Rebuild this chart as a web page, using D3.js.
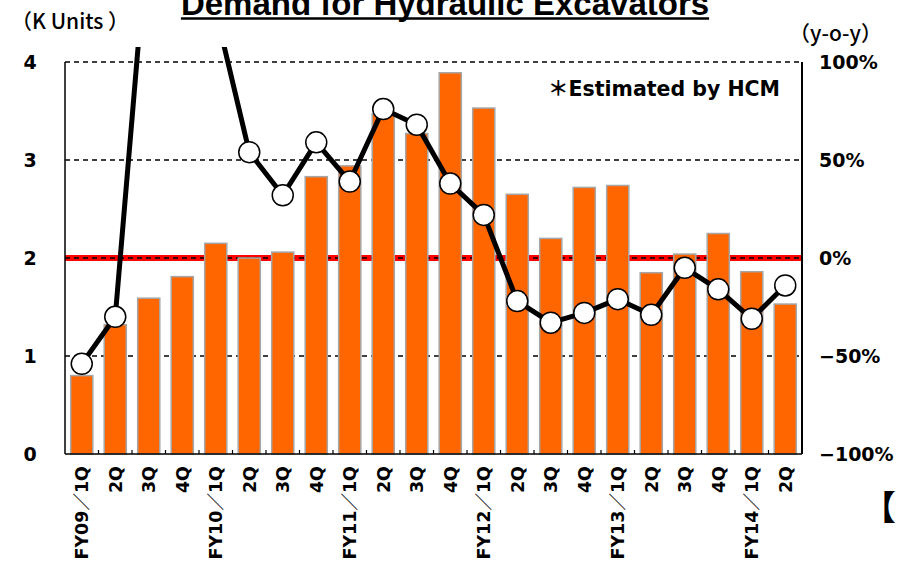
<!DOCTYPE html>
<html>
<head>
<meta charset="utf-8">
<script src="https://cdn.jsdelivr.net/npm/d3@7"></script>
<style>
	body { margin: 0; background: #fff; }
	svg { display: block; }
	text { font-family: "DejaVu Sans", "Noto Sans CJK JP", sans-serif; font-weight: bold; fill: #000; }
</style>
</head>
<body>
<svg id="chart" width="897" height="564"></svg>
<script>
'use strict';

// quarters shown under the bars
var quarters = ["FY09／1Q", "2Q", "3Q", "4Q", "FY10／1Q", "2Q", "3Q", "4Q", "FY11／1Q", "2Q", "3Q", "4Q",
	"FY12／1Q", "2Q", "3Q", "4Q", "FY13／1Q", "2Q", "3Q", "4Q", "FY14／1Q", "2Q"];
// demand, K units (left axis)
var demand = [0.80, 1.32, 1.59, 1.81, 2.15, 2.00, 2.06, 2.83, 2.94, 3.47, 3.27, 3.89,
	3.53, 2.65, 2.20, 2.72, 2.74, 1.85, 2.04, 2.25, 1.86, 1.53];
// year-on-year change, % (right axis)
var yoy = [-54, -30, 172, 160, 126, 54, 32, 59, 39, 76, 68, 38,
	22, -22, -33, -28, -21, -29, -5, -16, -31, -14];
var leftTicks = [0, 1, 2, 3, 4];
var rightTicks = [-100, -50, 0, 50, 100];

var svg = d3.select("#chart");
var plotLeft = 65, plotRight = 802, plotTop = 62, plotBottom = 454;

var x = d3.scaleBand()
	.domain(d3.range(quarters.length))
	.range([plotLeft, plotRight])
	.paddingInner(0.34)
	.paddingOuter(0.17);
var yL = d3.scaleLinear().domain([0, 4]).range([plotBottom, plotTop]);
var yR = d3.scaleLinear().domain([-100, 100]).range([plotBottom, plotTop]);

// title
var title = svg.append("text")
	.attr("x", 445).attr("y", 15)
	.attr("text-anchor", "middle")
	.style("font-family", "'Liberation Sans', Arial, sans-serif")
	.style("font-size", "33px")
	.text("Demand for Hydraulic Excavators");
var tb = title.node().getBBox();
svg.append("line")
	.attr("x1", tb.x).attr("x2", tb.x + tb.width)
	.attr("y1", 18.5).attr("y2", 18.5)
	.attr("stroke", "#000").attr("stroke-width", 2.5);

svg.append("text")
	.attr("x", 11).attr("y", 29)
	.style("font-family", "'Noto Sans CJK JP', sans-serif")
	.style("font-weight", "500")
	.style("font-size", "21px")
	.text("（K Units ）");
svg.append("text")
	.attr("x", 882).attr("y", 41)
	.attr("text-anchor", "end")
	.style("font-family", "'Noto Sans CJK JP', sans-serif")
	.style("font-weight", "500")
	.style("font-size", "21px")
	.text("（y-o-y）");

// red zero line
svg.append("line")
	.attr("x1", plotLeft).attr("x2", plotRight)
	.attr("y1", yR(0)).attr("y2", yR(0))
	.attr("stroke", "#ff0000").attr("stroke-width", 6);

// dashed gridlines
svg.append("g").selectAll("line")
	.data(leftTicks.filter(function(d) { return d > 0; }))
	.enter().append("line")
	.attr("x1", plotLeft).attr("x2", plotRight)
	.attr("y1", function(d) { return yL(d); })
	.attr("y2", function(d) { return yL(d); })
	.attr("stroke", "#000").attr("stroke-width", 1.5)
	.attr("stroke-dasharray", "5,4");

// bars
svg.append("g").selectAll("rect")
	.data(demand)
	.enter().append("rect")
	.attr("x", function(d, i) { return x(i); })
	.attr("y", function(d) { return yL(d); })
	.attr("width", x.bandwidth())
	.attr("height", function(d) { return plotBottom - yL(d); })
	.attr("fill", "#ff6600")
	.attr("stroke", "#a6a6a6").attr("stroke-width", 1.5);

// frame
svg.append("line").attr("x1", plotLeft).attr("x2", plotLeft).attr("y1", plotTop).attr("y2", plotBottom)
	.attr("stroke", "#000").attr("stroke-width", 1.5);
svg.append("line").attr("x1", plotRight).attr("x2", plotRight).attr("y1", plotTop).attr("y2", plotBottom)
	.attr("stroke", "#000").attr("stroke-width", 2);
svg.append("line").attr("x1", plotLeft).attr("x2", plotRight).attr("y1", plotBottom).attr("y2", plotBottom)
	.attr("stroke", "#000").attr("stroke-width", 1.5);

// category ticks, pointing up
svg.append("g").selectAll("line")
	.data(d3.range(1, quarters.length))
	.enter().append("line")
	.attr("x1", function(i) { return x(i) - x.step() * x.paddingInner() / 2; })
	.attr("x2", function(i) { return x(i) - x.step() * x.paddingInner() / 2; })
	.attr("y1", plotBottom).attr("y2", plotBottom - 4)
	.attr("stroke", "#000").attr("stroke-width", 1.2);

// y-o-y line, clipped just above the plot
svg.append("clipPath").attr("id", "clip")
	.append("rect").attr("x", plotLeft).attr("y", 47)
	.attr("width", plotRight - plotLeft).attr("height", plotBottom - 47);

var line = d3.line()
	.x(function(d, i) { return x(i) + x.bandwidth() / 2; })
	.y(function(d) { return yR(d); });

var lg = svg.append("g").attr("clip-path", "url(#clip)");
lg.append("path")
	.datum(yoy)
	.attr("d", line)
	.attr("fill", "none")
	.attr("stroke", "#000").attr("stroke-width", 5)
	.attr("stroke-linejoin", "round");
lg.selectAll("circle")
	.data(yoy)
	.enter().append("circle")
	.attr("cx", function(d, i) { return x(i) + x.bandwidth() / 2; })
	.attr("cy", function(d) { return yR(d); })
	.attr("r", 10.5)
	.attr("fill", "#fff")
	.attr("stroke", "#000").attr("stroke-width", 1.5);

// left axis labels
svg.append("g").selectAll("text")
	.data(leftTicks)
	.enter().append("text")
	.attr("x", 30)
	.attr("y", function(d) { return yL(d); })
	.attr("dy", "0.36em")
	.attr("text-anchor", "middle")
	.style("font-size", "19px")
	.text(function(d) { return d; });

// right axis labels
svg.append("g").selectAll("text")
	.data(rightTicks)
	.enter().append("text")
	.attr("x", 819)
	.attr("y", function(d) { return yR(d); })
	.attr("dy", "0.36em")
	.style("font-size", "19px")
	.text(function(d) { return (d < 0 ? "−" : "") + Math.abs(d) + "%"; });

// x labels, rotated
svg.append("g").selectAll("text")
	.data(quarters)
	.enter().append("text")
	.attr("transform", function(d, i) {
		return "translate(" + (x(i) + x.bandwidth() / 2) + "," + 466 + ") rotate(-90)";
	})
	.attr("dy", "0.36em")
	.attr("text-anchor", "end")
	.style("font-size", "17.5px")
	.text(function(d) { return d; });

svg.append("text")
	.attr("x", 548).attr("y", 96)
	.style("font-size", "20.5px")
	.text("＊Estimated by HCM");

svg.append("text")
	.attr("x", 862).attr("y", 520)
	.style("font-family", "'Noto Sans CJK JP', sans-serif")
	.style("font-size", "34px")
	.text("【");
</script>
</body>
</html>
